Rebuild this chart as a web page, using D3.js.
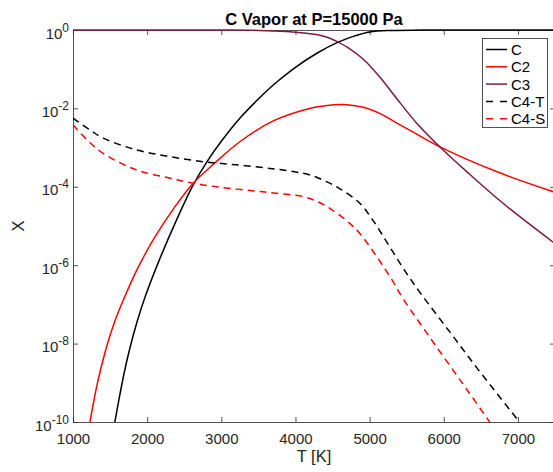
<!DOCTYPE html>
<html>
<head>
<meta charset="utf-8">
<script src="https://cdn.jsdelivr.net/npm/d3@7"></script>
<style>
  body { margin: 0; background: #fff; overflow: hidden; }
  text { font-family: "Liberation Sans", Arial, Helvetica, sans-serif; }
</style>
</head>
<body>
<script>
// mole fractions (T in K)
const tempC  = [1553, 1620, 1690, 1760, 1860, 1980, 2170, 2400, 2621, 2810, 3000, 3250, 3500, 3655, 3785, 4000, 4300, 4576, 4800, 5000, 5300, 5700, 6500, 7500];
const fracC  = [7.59e-11, 3.80e-10, 1.78e-9, 6.76e-9, 3.39e-8, 1.70e-7, 1.45e-6, 1.48e-5, 1.12e-4, 4.47e-4, 1.45e-3, 5.62e-3, 1.74e-2, 3.31e-2, 5.37e-2, 0.112, 0.263, 0.490, 0.708, 0.891, 0.973, 0.993, 0.998, 0.999];

const tempC2 = [1229, 1330, 1450, 1560, 1687, 1867, 2083, 2352, 2621, 2914, 3250, 3700, 4150, 4400, 4620, 4800, 4950, 5150, 5362, 5600, 5991, 6710, 7500];
const fracC2 = [1e-10, 1e-9, 7.94e-9, 3.55e-8, 1.41e-7, 7.94e-7, 4.47e-6, 2.69e-5, 1.23e-4, 4.07e-4, 1.41e-3, 4.79e-3, 9.55e-3, 1.17e-2, 1.26e-2, 1.17e-2, 1.02e-2, 7.24e-3, 4.27e-3, 2.40e-3, 9.55e-4, 2.45e-4, 7.24e-5];

const tempC3 = [1000, 2500, 3000, 3500, 3880, 4150, 4300, 4464, 4576, 4733, 4912, 5137, 5362, 5632, 5991, 6350, 6799, 7500];
const fracC3 = [0.9995, 0.999, 0.995, 0.977, 0.912, 0.822, 0.759, 0.617, 0.490, 0.331, 0.182, 0.0631, 1.82e-2, 4.27e-3, 8.71e-4, 2.09e-4, 3.80e-5, 3.55e-6];

const tempC4T = [1000, 1229, 1408, 1858, 2307, 2756, 3206, 3655, 3969, 4200, 4419, 4600, 4868, 5050, 5228, 5400, 5542, 5700, 6100, 6500, 7000, 7020];
const fracC4T = [5.62e-3, 2.82e-3, 1.74e-3, 8.71e-4, 5.89e-4, 4.37e-4, 3.63e-4, 2.95e-4, 2.45e-4, 2.0e-4, 1.35e-4, 8.91e-5, 3.80e-5, 1.35e-5, 3.98e-6, 1.20e-6, 4.68e-7, 1.78e-7, 1.78e-8, 1.78e-9, 1.12e-10, 1e-10];

const tempC4S = [1000, 1200, 1408, 1858, 2307, 2621, 2981, 3520, 3655, 4104, 4300, 4464, 4733, 4868, 5003, 5150, 5300, 5451, 5856, 6300, 6620];
const fracC4S = [3.80e-3, 1.51e-3, 7.08e-4, 2.69e-4, 1.66e-4, 1.23e-4, 9.77e-5, 7.59e-5, 7.08e-5, 5.62e-5, 4.17e-5, 2.82e-5, 1.17e-5, 6.46e-6, 2.95e-6, 1.17e-6, 4.27e-7, 1.41e-7, 1.10e-8, 7.24e-10, 1e-10];

const seriesNames  = ["C", "C2", "C3", "C4-T", "C4-S"];
const seriesColors = ["#000000", "#ff0000", "#7b1a45", "#000000", "#ff0000"];
const seriesDashed = [false, false, false, true, true];

const xTicks = [1000, 2000, 3000, 4000, 5000, 6000, 7000];
const yExponents = [-10, -8, -6, -4, -2, 0];

const width = 553, height = 472;
const plot = {left: 73, top: 30, right: 555, bottom: 422};
const axisColor = "#262626";

const svg = d3.select("body").append("svg")
    .attr("width", width)
    .attr("height", height);

const xScale = d3.scaleLinear().domain([1000, 7500]).range([plot.left, plot.right]);
const yScale = d3.scaleLog().domain([1e-10, 1]).range([plot.bottom, plot.top]);

const series = seriesNames.map((name, i) => {
    const temps = [tempC, tempC2, tempC3, tempC4T, tempC4S][i];
    const fracs = [fracC, fracC2, fracC3, fracC4T, fracC4S][i];
    return {
        name: name,
        color: seriesColors[i],
        dashed: seriesDashed[i],
        points: temps.map((t, j) => ({t: t, x: fracs[j]}))
    };
});

function styleAxis(g) {
    g.select(".domain").attr("stroke", axisColor).attr("stroke-width", 0.8);
    g.selectAll(".tick line").attr("stroke", axisColor).attr("stroke-width", 0.8);
    g.selectAll(".tick text").attr("fill", axisColor).style("font-size", "15px");
}

function renderAxes() {
    const yTickValues = yExponents.map((e) => Math.pow(10, e));

    svg.append("g").attr("class", "xaxis")
        .attr("transform", "translate(0," + plot.bottom + ")")
        .call(d3.axisBottom(xScale).tickValues(xTicks).tickSizeInner(-5).tickSizeOuter(0)
            .tickPadding(11).tickFormat(d3.format("d")))
        .call(styleAxis);

    svg.append("g").attr("class", "xaxis-top")
        .attr("transform", "translate(0," + plot.top + ")")
        .call(d3.axisTop(xScale).tickValues(xTicks).tickSizeInner(-5).tickSizeOuter(0).tickFormat(""))
        .call(styleAxis);

    const yAxis = svg.append("g").attr("class", "yaxis")
        .attr("transform", "translate(" + plot.left + ",0)")
        .call(d3.axisLeft(yScale).tickValues(yTickValues).tickSizeInner(-5).tickSizeOuter(0).tickFormat(""))
        .call(styleAxis);

    svg.append("g").attr("class", "yaxis-right")
        .attr("transform", "translate(" + plot.right + ",0)")
        .call(d3.axisRight(yScale).tickValues(yTickValues).tickSizeInner(-5).tickSizeOuter(0).tickFormat(""))
        .call(styleAxis);

    // 10^n labels with superscript
    yAxis.selectAll(".tick").each(function (d) {
        const exp = Math.round(Math.log10(d));
        const label = d3.select(this).select("text")
            .attr("x", -4)
            .attr("dy", null)
            .attr("y", 8)
            .attr("text-anchor", "end")
            .style("font-size", "15px")
            .text(null);
        label.append("tspan").text("10");
        label.append("tspan")
            .attr("dy", -7)
            .style("font-size", "12px")
            .text(String(exp));
    });
}

function renderCurves() {
    svg.append("clipPath").attr("id", "plot-clip")
        .append("rect")
        .attr("x", plot.left)
        .attr("y", plot.top - 2)
        .attr("width", plot.right - plot.left)
        .attr("height", plot.bottom - plot.top + 2);

    const line = d3.line()
        .x((d) => xScale(d.t))
        .y((d) => yScale(d.x))
        .curve(d3.curveCatmullRom.alpha(0.5));

    svg.append("g").attr("class", "curves")
        .attr("clip-path", "url(#plot-clip)")
        .selectAll("path")
        .data(series)
        .join("path")
        .attr("d", (d) => line(d.points))
        .attr("fill", "none")
        .attr("stroke", (d) => d.color)
        .attr("stroke-width", 1.5)
        .attr("stroke-dasharray", (d) => d.dashed ? "7,5" : null);
}

function renderLabels() {
    svg.append("text")
        .attr("x", (plot.left + plot.right) / 2)
        .attr("y", 25)
        .attr("text-anchor", "middle")
        .style("font-size", "16.5px")
        .style("font-weight", "bold")
        .attr("fill", "#000")
        .text("C Vapor at P=15000 Pa");

    svg.append("text")
        .attr("x", (plot.left + plot.right) / 2)
        .attr("y", 462)
        .attr("text-anchor", "middle")
        .style("font-size", "16.5px")
        .attr("fill", axisColor)
        .text("T [K]");

    svg.append("text")
        .attr("transform", "translate(24," + (plot.top + plot.bottom) / 2 + ") rotate(-90)")
        .attr("text-anchor", "middle")
        .style("font-size", "16.5px")
        .attr("fill", axisColor)
        .text("X");
}

function renderLegend() {
    const box = {x: 482.5, y: 38.5, w: 65, h: 89};
    const rowY = (i) => 49.5 + i * 17.3;

    const legend = svg.append("g").attr("class", "legend");
    legend.append("rect")
        .attr("x", box.x).attr("y", box.y)
        .attr("width", box.w).attr("height", box.h)
        .attr("fill", "#fff")
        .attr("stroke", axisColor)
        .attr("stroke-width", 0.8);

    const rows = legend.selectAll("g.row").data(series).join("g").attr("class", "row");
    rows.append("line")
        .attr("x1", 486).attr("x2", 507)
        .attr("y1", (d, i) => rowY(i)).attr("y2", (d, i) => rowY(i))
        .attr("stroke", (d) => d.color)
        .attr("stroke-width", 1.5)
        .attr("stroke-dasharray", (d) => d.dashed ? "7,7" : null);
    rows.append("text")
        .attr("x", 511)
        .attr("y", (d, i) => rowY(i) + 5.5)
        .style("font-size", "15px")
        .attr("fill", "#000")
        .text((d) => d.name);
}

renderAxes();
renderCurves();
renderLabels();
renderLegend();
</script>
</body>
</html>
